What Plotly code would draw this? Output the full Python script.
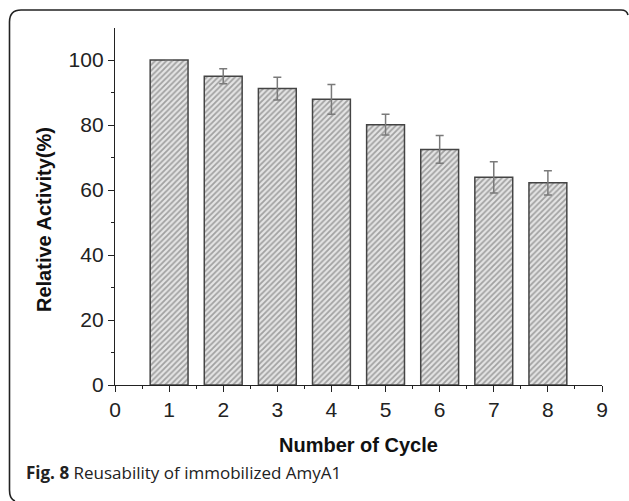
import plotly.graph_objects as go

cycles = [1, 2, 3, 4, 5, 6, 7, 8]
activity = [100.0, 95.0, 91.2, 87.9, 80.1, 72.5, 63.9, 62.2]
errors = [0.0, 2.3, 3.5, 4.6, 3.2, 4.3, 4.8, 3.7]

x_ticks = [0, 1, 2, 3, 4, 5, 6, 7, 8, 9]
y_ticks = [0, 20, 40, 60, 80, 100]

W, H = 629, 501

def px(x):
    return x / W

def py(y):
    return 1 - y / H

fig = go.Figure()
fig.add_trace(go.Bar(
    x=cycles, y=activity, width=0.7,
    marker=dict(
        color="white",
        line=dict(color="#444", width=1.5),
        pattern=dict(shape="/", size=4, solidity=0.45, fgcolor="#5e5e5e", bgcolor="#e4e4e4"),
    ),
    error_y=dict(type="data", array=errors, visible=True, color="#7a7a7a", thickness=1.5, width=4),
    showlegend=False,
))

font_family = "Liberation Sans, Arial, sans-serif"

fig.update_layout(
    width=W, height=H,
    margin=dict(l=0, r=0, t=0, b=0),
    paper_bgcolor="white", plot_bgcolor="white",
    font=dict(family=font_family, color="#222"),
    xaxis=dict(
        domain=[px(115), px(602)], range=[0, 9],
        tickvals=x_ticks, ticktext=[str(v) for v in x_ticks],
        showline=True, linecolor="#222", linewidth=1.3,
        ticks="outside", ticklen=6, tickwidth=1.3, tickcolor="#222",
        minor=dict(dtick=0.5, tick0=0, ticks="outside", ticklen=3, tickwidth=1.2, tickcolor="#222"),
        showgrid=False, zeroline=False, automargin=False,
        tickfont=dict(size=21, family=font_family, color="#222"),
        fixedrange=True,
    ),
    yaxis=dict(
        domain=[py(385), py(27.5)], range=[0, 110],
        tickvals=y_ticks, ticktext=[str(v) for v in y_ticks],
        showline=True, linecolor="#222", linewidth=1.3,
        ticks="outside", ticklen=6, tickwidth=1.3, tickcolor="#222",
        minor=dict(tickvals=[10, 30, 50, 70, 90], ticks="outside", ticklen=3, tickwidth=1.2, tickcolor="#222"),
        showgrid=False, zeroline=False, automargin=False,
        tickfont=dict(size=21, family=font_family, color="#222"),
        fixedrange=True,
    ),
    annotations=[
        dict(text="<b>Number of Cycle</b>", xref="paper", yref="paper",
             x=px(358.5), y=py(445), xanchor="center", yanchor="middle",
             showarrow=False, font=dict(size=20, family=font_family, color="#111")),
        dict(text="<b>Relative Activity(%)</b>", xref="paper", yref="paper",
             x=px(44), y=py(220), xanchor="center", yanchor="middle", textangle=-90,
             showarrow=False, font=dict(size=20, family=font_family, color="#111")),
        dict(text="<b>Fig. 8</b> Reusability of immobilized AmyA1", xref="paper", yref="paper",
             x=px(24), y=py(472), xanchor="left", yanchor="middle",
             showarrow=False, font=dict(size=17, family="Open Sans, sans-serif", color="#222")),
    ],
    shapes=[
        dict(type="path", xref="paper", yref="paper",
             path=(f"M {px(15)},{py(501)} Q {px(9.5)},{py(499)} {px(9.5)},{py(490)} "
                   f"L {px(9.5)},{py(22)} Q {px(9.5)},{py(10)} {px(21)},{py(10)} "
                   f"L {px(621)},{py(10)} Q {px(627)},{py(10)} {px(628)},{py(15)}"),
             line=dict(color="#222", width=1.6)),
    ],
)

fig.write_html("out.html")
